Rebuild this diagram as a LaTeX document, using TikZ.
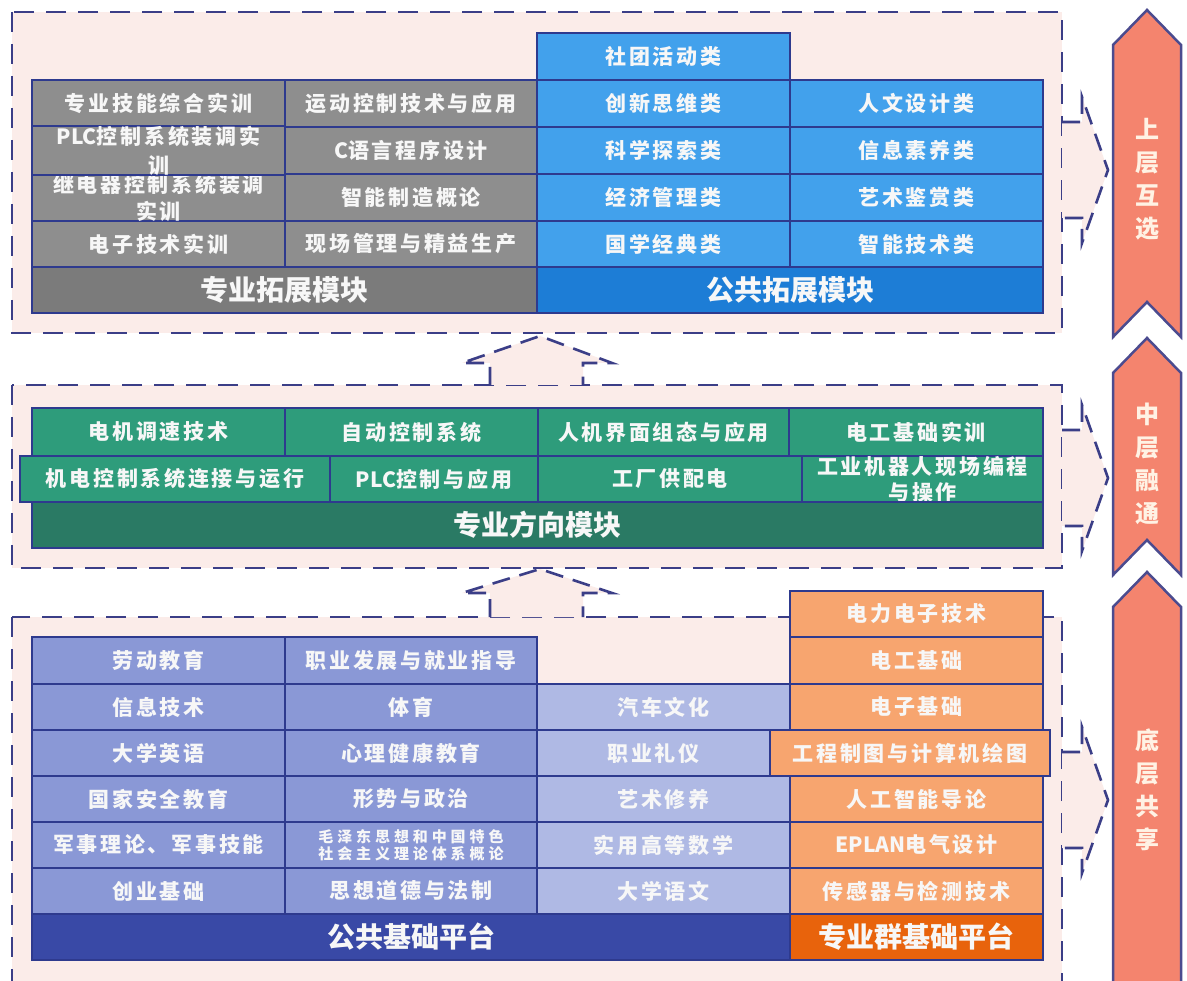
\documentclass[tikz,border=0pt]{standalone}
\usepackage{fontspec}
\newfontfamily\cjk{Noto Sans CJK SC}[LetterSpace=13]
\newfontfamily\cjksmall{Noto Sans CJK SC}[LetterSpace=26]
\newfontfamily\cjkbar{Noto Sans CJK SC}
\newcommand\lat[1]{{\cjkbar #1}}
\definecolor{framefill}{HTML}{FBECE9}
\definecolor{dashc}{HTML}{3B3E87}
\definecolor{cellb}{HTML}{2E3A8E}
\definecolor{celltext}{HTML}{F7F7F7}
\definecolor{grayc}{HTML}{8E8E8E}
\definecolor{graybar}{HTML}{7B7B7B}
\definecolor{bluec}{HTML}{42A1EC}
\definecolor{bluebar}{HTML}{1D7DD6}
\definecolor{greenc}{HTML}{2E9C7B}
\definecolor{greenbar}{HTML}{2A7A64}
\definecolor{purplec}{HTML}{8A98D6}
\definecolor{lavc}{HTML}{AFB9E4}
\definecolor{purplebar}{HTML}{3949A6}
\definecolor{orangec}{HTML}{F7A56F}
\definecolor{orangebar}{HTML}{E8630C}
\definecolor{chevfill}{HTML}{F4846E}
\definecolor{chevline}{HTML}{4B4B8F}
\definecolor{chevtext}{HTML}{FFF2E4}
\newcommand\mkcell[7]{\node[#6, minimum width={(#4-#2)*1pt}, minimum height={(#5-#3)*1pt}] (#1) at ({(#2+#4)/2},{(#3+#5)/2}) {#7};}
\begin{document}
\begin{tikzpicture}[x=1pt,y=-1pt,
  frame/.style={fill=framefill, draw=dashc, line width=2.6pt, dash pattern=on 20pt off 12pt},
  dasharrow/.style={fill=framefill, draw=dashc, line width=2.6pt, dash pattern=on 18pt off 10pt},
  cellst/.style={draw=cellb, line width=2.5pt, inner sep=0pt, outer sep=0pt, text=celltext, align=center, font=\cjk\bfseries\fontsize{21}{27}\selectfont},
  gcell/.style={cellst, fill=grayc},
  bcell/.style={cellst, fill=bluec},
  ncell/.style={cellst, fill=greenc},
  pcell/.style={cellst, fill=purplec},
  lcell/.style={cellst, fill=lavc},
  ocell/.style={cellst, fill=orangec},
  barst/.style={cellst, font=\cjkbar\bfseries\fontsize{28}{30}\selectfont},
  chev/.style={fill=chevfill, draw=chevline, line width=2.5pt, line join=miter},
  chevtxt/.style={text=chevtext, align=center, font=\cjkbar\bfseries\fontsize{24}{33}\selectfont}
]
\clip (0,0) rectangle (1187,981);
\fill[white] (0,0) rectangle (1187,981);
% frames
\draw[frame] (12,12) rectangle (1062,333);
\draw[frame] (12,385) rectangle (1062,568);
\draw[frame] (12,617) rectangle (1062,1000);
% up arrows between frames
\draw[dasharrow] (490,385) -- (490,363) -- (462,363) -- (540,336) -- (612,363) -- (583,363) -- (583,385);
\draw[dasharrow] (490,617) -- (490,593) -- (462,593) -- (540,569) -- (612,593) -- (583,593) -- (583,617);
% right arrows
\foreach \cy in {170,478,800}{
  \draw[dasharrow] (1062,\cy-48) -- (1082,\cy-48) -- (1082,\cy-73) -- (1108,\cy) -- (1082,\cy+73) -- (1082,\cy+48) -- (1062,\cy+48);
}
% chevrons
\draw[chev] (1113,45) -- (1147,10) -- (1181,45) -- (1181,337) -- (1147,302) -- (1113,337) -- cycle;
\draw[chev] (1113,373) -- (1147,338) -- (1181,373) -- (1181,575) -- (1147,540) -- (1113,575) -- cycle;
\draw[chev] (1113,607) -- (1147,572) -- (1181,607) -- (1181,1000) -- (1113,1000) -- cycle;
\node[chevtxt] (up) at (1147,179) {上\\层\\互\\选};
\node[chevtxt] (mid) at (1147,464) {中\\层\\融\\通};
\node[chevtxt] (low) at (1147,790) {底\\层\\共\\享};
% ---- top section
\mkcell{g11}{32}{80}{285}{127}{gcell}{专业技能综合实训}
\mkcell{g12}{285}{80}{537}{127}{gcell}{运动控制技术与应用}
\mkcell{g41}{32}{221}{285}{267}{gcell}{电子技术实训}
\mkcell{g42}{285}{221}{537}{267}{gcell}{现场管理与精益生产}
\mkcell{g31}{32}{174}{285}{221}{gcell}{继电器控制系统装调\\实训}
\mkcell{g32}{285}{174}{537}{221}{gcell}{智能制造概论}
\mkcell{g21}{32}{127}{285}{174}{gcell,font=\cjk\bfseries\fontsize{21}{29}\selectfont}{\lat{PLC}控制系统装调实\\训}
\mkcell{g22}{285}{127}{537}{174}{gcell}{\lat{C}语言程序设计}
\mkcell{gbar}{32}{267}{537}{313}{barst,fill=graybar}{专业拓展模块}
\mkcell{b0}{537}{33}{790}{80}{bcell}{社团活动类}
\mkcell{b11}{537}{80}{790}{127}{bcell}{创新思维类}
\mkcell{b12}{790}{80}{1043}{127}{bcell}{人文设计类}
\mkcell{b21}{537}{127}{790}{174}{bcell}{科学探索类}
\mkcell{b22}{790}{127}{1043}{174}{bcell}{信息素养类}
\mkcell{b31}{537}{174}{790}{221}{bcell}{经济管理类}
\mkcell{b32}{790}{174}{1043}{221}{bcell}{艺术鉴赏类}
\mkcell{b41}{537}{221}{790}{267}{bcell}{国学经典类}
\mkcell{b42}{790}{221}{1043}{267}{bcell}{智能技术类}
\mkcell{bbar}{537}{267}{1043}{313}{barst,fill=bluebar}{公共拓展模块}
% ---- middle section
\mkcell{n11}{32}{408}{285}{456}{ncell}{电机调速技术}
\mkcell{n12}{285}{408}{538}{456}{ncell}{自动控制系统}
\mkcell{n13}{538}{408}{789}{456}{ncell}{人机界面组态与应用}
\mkcell{n14}{789}{408}{1043}{456}{ncell}{电工基础实训}
\mkcell{n21}{20}{456}{330}{502}{ncell}{机电控制系统连接与运行}
\mkcell{n22}{330}{456}{538}{502}{ncell}{\lat{PLC}控制与应用}
\mkcell{n23}{538}{456}{802}{502}{ncell}{工厂供配电}
\mkcell{n24}{802}{456}{1043}{502}{ncell,font=\cjk\bfseries\fontsize{21}{26}\selectfont}{工业机器人现场编程\\与操作}
\mkcell{nbar}{32}{502}{1043}{548}{barst,fill=greenbar}{专业方向模块}
% ---- bottom section
\mkcell{p11}{32}{637}{285}{684}{pcell}{劳动教育}
\mkcell{p12}{285}{637}{537}{684}{pcell}{职业发展与就业指导}
\mkcell{p21}{32}{684}{285}{730}{pcell}{信息技术}
\mkcell{p22}{285}{684}{537}{730}{pcell}{体育}
\mkcell{p31}{32}{730}{285}{776}{pcell}{大学英语}
\mkcell{p32}{285}{730}{537}{776}{pcell}{心理健康教育}
\mkcell{p41}{32}{776}{285}{822}{pcell}{国家安全教育}
\mkcell{p42}{285}{776}{537}{822}{pcell}{形势与政治}
\mkcell{p51}{32}{822}{285}{868}{pcell}{军事理论、军事技能}
\mkcell{p52}{285}{822}{537}{868}{pcell,font=\cjksmall\bfseries\fontsize{15}{17}\selectfont}{毛泽东思想和中国特色\\社会主义理论体系概论}
\mkcell{p61}{32}{868}{285}{914}{pcell}{创业基础}
\mkcell{p62}{285}{868}{537}{914}{pcell}{思想道德与法制}
\mkcell{l2}{537}{684}{790}{730}{lcell}{汽车文化}
\mkcell{l3}{537}{730}{770}{776}{lcell}{职业礼仪}
\mkcell{l4}{537}{776}{790}{822}{lcell}{艺术修养}
\mkcell{l5}{537}{822}{790}{868}{lcell}{实用高等数学}
\mkcell{l6}{537}{868}{790}{914}{lcell}{大学语文}
\mkcell{pbar}{32}{914}{790}{960}{barst,fill=purplebar}{公共基础平台}
\mkcell{o0}{790}{591}{1043}{637}{ocell}{电力电子技术}
\mkcell{o1}{790}{637}{1043}{684}{ocell}{电工基础}
\mkcell{o2}{790}{684}{1043}{730}{ocell}{电子基础}
\mkcell{o4}{790}{776}{1043}{822}{ocell}{人工智能导论}
\mkcell{o5}{790}{822}{1043}{868}{ocell}{\lat{EPLAN}电气设计}
\mkcell{o6}{790}{868}{1043}{914}{ocell}{传感器与检测技术}
\mkcell{o3}{770}{730}{1050}{776}{ocell}{工程制图与计算机绘图}
\mkcell{obar}{790}{914}{1043}{960}{barst,fill=orangebar}{专业群基础平台}
\end{tikzpicture}
\end{document}
